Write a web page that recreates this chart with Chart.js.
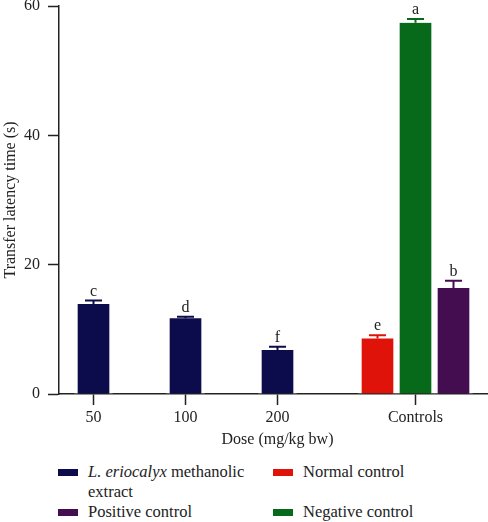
<!DOCTYPE html>
<html>
<head>
<meta charset="utf-8">
<script src="https://cdn.jsdelivr.net/npm/chart.js@4/dist/chart.umd.min.js"></script>
<style>
    body { margin: 0; background: #fff; }
    #wrap { position: relative; width: 488px; height: 522px; overflow: hidden; }
    #chart { position: absolute; left: 0; top: 0; }
    #legend {
        position: absolute; left: 58px; top: 462px;
        display: grid; grid-template-columns: 215px 200px;
        font: 16.5px "Liberation Serif", serif; color: #222; line-height: 20px;
    }
    .item { display: flex; align-items: flex-start; }
    .swatch { width: 20px; height: 7px; margin: 7px 10px 0 0; flex: none; }
    .text { width: 160px; }
</style>
</head>
<body>
<div id="wrap">
    <canvas id="chart" width="496" height="449"></canvas>
    <div id="legend"></div>
</div>
<script>
// values (s)
const doses = ['50', '100', '200'];
const extractMeans = [13.9, 11.7, 6.8];
const extractErrors = [0.55, 0.25, 0.5];
const extractLetters = ['c', 'd', 'f'];

const controlNames = ['Normal control', 'Negative control', 'Positive control'];
const controlMeans = [8.6, 57.4, 16.4];
const controlErrors = [0.5, 0.6, 1.1];
const controlLetters = ['e', 'a', 'b'];
const controlColors = ['#e0130b', '#07691a', '#440d50'];

const xTickLabels = [...doses, 'Controls'];
const extractName = 'L. eriocalyx methanolic extract';
const extractColor = '#0c0b4b';
const legendOrder = [extractName, 'Normal control', 'Positive control', 'Negative control'];

// the x axis is split into narrow slots so the groups keep the uneven spacing of the figure
const slotCount = 19;
const slotOf = [1, 5, 9, 15];

function atSlots(values, slots) {
    let out = new Array(slotCount).fill(null);
    values.forEach((v, i) => out[slots[i]] = v);
    return out;
}

let labels = atSlots(xTickLabels, slotOf).map(l => l || '');
const doseSlots = slotOf.slice(0, 3);
const controlSlot = slotOf[3];

const font = { family: '"Liberation Serif", serif', size: 16 };
const ink = '#222';

const barStyle = {
    barThickness: 38,
    borderWidth: { left: 3.5, right: 3.5, top: 0, bottom: 0 },
    borderColor: '#fff',
    skipNull: true,
};

let datasets = [{
    label: extractName,
    data: atSlots(extractMeans, doseSlots),
    errors: atSlots(extractErrors, doseSlots),
    letters: atSlots(extractLetters, doseSlots),
    backgroundColor: extractColor,
    ...barStyle,
}];
controlNames.forEach((name, i) => {
    datasets.push({
        label: name,
        data: atSlots([controlMeans[i]], [controlSlot]),
        errors: atSlots([controlErrors[i]], [controlSlot]),
        letters: atSlots([controlLetters[i]], [controlSlot]),
        backgroundColor: controlColors[i],
        ...barStyle,
    });
});

const errorBars = {
    id: 'errorBars',
    afterDatasetsDraw(chart) {
        const ctx = chart.ctx;
        const y = chart.scales.y;
        chart.data.datasets.forEach((ds, di) => {
            chart.getDatasetMeta(di).data.forEach((bar, i) => {
                if (ds.data[i] == null) return;
                const top = y.getPixelForValue(ds.data[i] + ds.errors[i]);
                ctx.save();
                ctx.strokeStyle = ds.backgroundColor;
                ctx.lineWidth = 2;
                ctx.beginPath();
                ctx.moveTo(bar.x, bar.y);
                ctx.lineTo(bar.x, top);
                ctx.moveTo(bar.x - 8.5, top);
                ctx.lineTo(bar.x + 8.5, top);
                ctx.stroke();
                ctx.fillStyle = ink;
                ctx.font = '16px "Liberation Serif", serif';
                ctx.textAlign = 'center';
                ctx.textBaseline = 'alphabetic';
                ctx.fillText(ds.letters[i], bar.x, top - 5);
                ctx.restore();
            });
        });
    }
};

new Chart(document.getElementById('chart'), {
    type: 'bar',
    data: { labels: labels, datasets: datasets },
    plugins: [errorBars],
    options: {
        responsive: false,
        animation: false,
        layout: { padding: { top: 6, left: 0, right: 0, bottom: 0 } },
        plugins: { legend: { display: false }, tooltip: { enabled: false } },
        scales: {
            x: {
                offset: true,
                grid: {
                    offset: false,
                    drawOnChartArea: false,
                    tickLength: 11,
                    tickWidth: 1.5,
                    tickColor: c => (c.tick && c.tick.label) ? ink : 'rgba(0,0,0,0)',
                },
                border: { color: ink, width: 1.5 },
                ticks: { autoSkip: false, maxRotation: 0, padding: 3, color: ink, font: font },
                title: { display: true, text: 'Dose (mg/kg bw)', color: ink, font: font, padding: { top: 0, bottom: 0 } },
                afterFit(scale) {
                    scale.height = 55;
                    scale.paddingLeft = 0;
                    scale.paddingRight = 0;
                },
            },
            y: {
                min: 0,
                max: 60,
                grid: { drawOnChartArea: false, tickLength: 11, tickWidth: 1.5, tickColor: ink },
                border: { color: ink, width: 1.5 },
                ticks: { stepSize: 20, padding: 8, color: ink, font: font },
                title: { display: true, text: 'Transfer latency time (s)', color: ink, font: font, padding: { top: 1, bottom: 0 } },
                afterFit(scale) {
                    scale.width = 59;
                    scale.paddingTop = 0;
                    scale.paddingBottom = 0;
                },
            },
        },
    },
});

// legend in two columns, like the figure
let legend = document.getElementById('legend');
legendOrder.forEach(name => {
    const ds = datasets.find(d => d.label === name);
    let item = document.createElement('div');
    item.className = 'item';
    let sw = document.createElement('span');
    sw.className = 'swatch';
    sw.style.background = ds.backgroundColor;
    let txt = document.createElement('span');
    txt.className = 'text';
    if (name === extractName) {
        txt.innerHTML = '<i>L. eriocalyx</i> methanolic extract';
    } else {
        txt.textContent = name;
    }
    item.appendChild(sw);
    item.appendChild(txt);
    legend.appendChild(item);
});
</script>
</body>
</html>
